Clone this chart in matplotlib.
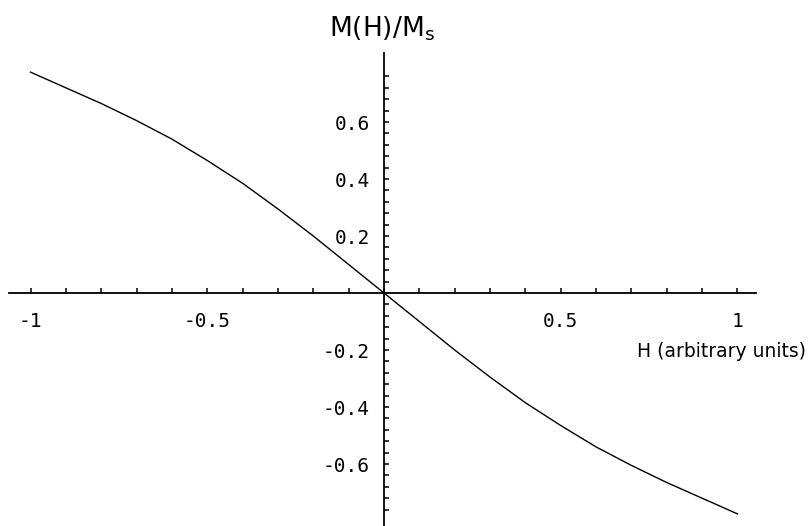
import matplotlib
matplotlib.use("Agg")
import matplotlib.pyplot as plt
import numpy as np

field = [-1.0, -0.9, -0.8, -0.7, -0.6, -0.5, -0.4, -0.3, -0.2, -0.1, 0.0,
         0.1, 0.2, 0.3, 0.4, 0.5, 0.6, 0.7, 0.8, 0.9, 1.0]
magnet = [0.775, 0.72, 0.665, 0.605, 0.54, 0.465, 0.385, 0.295, 0.2, 0.1, 0.0,
          -0.1, -0.2, -0.295, -0.385, -0.465, -0.54, -0.605, -0.665, -0.72, -0.775]

x_labelled = [-1, -0.5, 0.5, 1]
x_labels = ["-1", "-0.5", "0.5", "1"]
y_labelled = [-0.6, -0.4, -0.2, 0.2, 0.4, 0.6]
y_labels = ["-0.6", "-0.4", "-0.2", "0.2", "0.4", "0.6"]

fig = plt.figure(figsize=(8.1, 5.26), dpi=100)
ax = fig.add_axes([0, 0, 1, 1])

ax.plot(field, magnet, color="black", lw=1.0)

ax.set_xlim(-1.0863, 1.2051)
ax.set_ylim(-0.8175, 1.0281)

# axes crossing at the origin
ax.spines[["top", "right"]].set_visible(False)
ax.spines["left"].set_position(("data", 0))
ax.spines["bottom"].set_position(("data", 0))
ax.spines["bottom"].set_bounds(-1.061, 1.052)
ax.spines["left"].set_bounds(-0.9, 0.842)
for s in ["left", "bottom"]:
    ax.spines[s].set_linewidth(1.3)
    ax.spines[s].set_color("black")

mono = "DejaVu Sans Mono"
ax.set_xticks(x_labelled)
ax.set_xticklabels(x_labels, family=mono, fontsize=14)
ax.set_xticks(np.round(np.arange(-1, 1.01, 0.1), 2), minor=True)
ax.set_yticks(y_labelled)
ax.set_yticklabels(y_labels, family=mono, fontsize=14)
ax.set_yticks(np.round(np.arange(-0.76, 0.77, 0.04), 2), minor=True)

ax.tick_params(axis="both", which="both", direction="in", length=3.5,
               width=1.1, color="black")
ax.tick_params(axis="x", which="major", pad=14)
ax.tick_params(axis="y", which="major", pad=10)

ax.text(0.786, 0.331, "H (arbitrary units)", transform=ax.transAxes,
        ha="left", va="center", fontsize=13.5)
ax.text(0.472, 0.945, r"M(H)/M$_\mathregular{s}$", transform=ax.transAxes,
        ha="center", va="center", fontsize=19)

fig.savefig("out.png", dpi=100)
